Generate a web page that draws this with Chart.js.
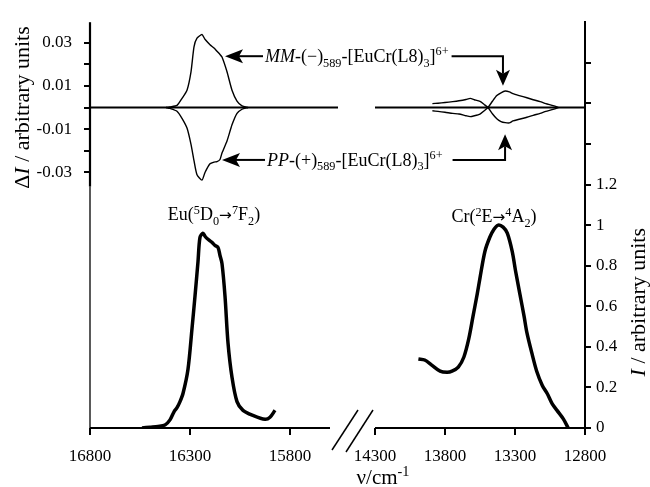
<!DOCTYPE html>
<html>
<head>
<meta charset="utf-8">
<script src="https://cdn.jsdelivr.net/npm/chart.js@4.4.1/dist/chart.umd.min.js"></script>
<style>
  html, body { margin: 0; padding: 0; background: #fff; }
  #wrap { width: 650px; height: 487px; position: relative; }
</style>
</head>
<body>
<div id="wrap"><canvas id="c"></canvas></div>
<script>
// emission, Eu(5D0->7F2) band: wavenumber (cm-1) / intensity
const euWn = [16540, 16500, 16460, 16425, 16400, 16380, 16365, 16350, 16335, 16310, 16290, 16275, 16260, 16250, 16235, 16225, 16210, 16190, 16175, 16160, 16150, 16140, 16125, 16110, 16090, 16065, 16035, 15985, 15925, 15900, 15875];
const euI = [0.0, 0.004, 0.008, 0.015, 0.04, 0.08, 0.10, 0.13, 0.17, 0.29, 0.49, 0.65, 0.82, 0.94, 0.96, 0.945, 0.93, 0.915, 0.90, 0.89, 0.85, 0.81, 0.65, 0.42, 0.25, 0.13, 0.087, 0.062, 0.043, 0.053, 0.087];

// emission, Cr(2E->4A2) band
const crWn = [13990, 13945, 13895, 13835, 13785, 13750, 13705, 13665, 13630, 13600, 13570, 13550, 13515, 13480, 13450, 13420, 13385, 13355, 13320, 13295, 13265, 13235, 13215, 13180, 13145, 13105, 13070, 13035, 13000, 12955, 12920];
const crI = [0.34, 0.335, 0.31, 0.28, 0.275, 0.28, 0.30, 0.35, 0.44, 0.55, 0.66, 0.74, 0.87, 0.94, 0.98, 1.0, 0.99, 0.96, 0.87, 0.77, 0.66, 0.55, 0.47, 0.37, 0.28, 0.21, 0.17, 0.12, 0.087, 0.045, 0.0];

// CPL, Eu band
const euCdWn = [16420, 16400, 16365, 16340, 16315, 16295, 16280, 16265, 16240, 16225, 16200, 16180, 16165, 16150, 16140, 16115, 16090, 16065, 16040, 16010];
const euCdMM = [0, 0.0003, 0.001, 0.0042, 0.008, 0.0165, 0.028, 0.032, 0.0337, 0.0315, 0.029, 0.0275, 0.026, 0.0245, 0.0233, 0.0165, 0.008, 0.003, 0.0008, 0];
const euCdPP = [0, -0.0004, -0.0017, -0.005, -0.0095, -0.017, -0.0245, -0.031, -0.0335, -0.03, -0.026, -0.0252, -0.025, -0.024, -0.021, -0.0155, -0.008, -0.0027, -0.0008, 0];

// CPL, Cr band
const crCdWn = [13890, 13850, 13800, 13745, 13700, 13650, 13620, 13590, 13550, 13520, 13493, 13460, 13430, 13400, 13370, 13340, 13315, 13270, 13215, 13170, 13120, 13080, 13035, 13000, 12990];
const crCdMM = [-0.0015, -0.0018, -0.0022, -0.0027, -0.003, -0.0038, -0.0042, -0.0038, -0.003, -0.0015, 0, 0.003, 0.0055, 0.0068, 0.0076, 0.0072, 0.0064, 0.0055, 0.0045, 0.0036, 0.0027, 0.0018, 0.001, 0.0003, 0];
const crCdPP = [0.0018, 0.002, 0.0023, 0.0027, 0.0031, 0.0037, 0.0042, 0.0036, 0.0028, 0.0014, 0, -0.003, -0.0052, -0.0065, -0.007, -0.0071, -0.0062, -0.0054, -0.0045, -0.0036, -0.0027, -0.0018, -0.001, -0.0003, 0];

// zero line of the CPL panel, in two pieces around the break
const zeroLeft = [16800, 15560];
const zeroRight = [14300, 12800];

const xTicks = [16800, 16300, 15800, 14300, 13800, 13300, 12800];
const dTicks = [0.03, 0.02, 0.01, 0, -0.01, -0.02, -0.03];
const dTickLabels = ['0.03', '', '0.01', '', '-0.01', '', '-0.03'];
const iTicks = [0, 0.2, 0.4, 0.6, 0.8, 1.0, 1.2, 1.4, 1.6, 1.8];
const iTickLabels = ['0', '0.2', '0.4', '0.6', '0.8', '1', '1.2', '', '', ''];

// broken axis: 16800..15550 on the left, 14300..12800 squeezed on the right
const toU = v => v >= 15000 ? 16800 - v : 1425 + (14300 - v) * 0.7;
const pts = (xs, ys) => xs.map((v, i) => ({ x: toU(v), y: ys[i] }));

const FONT = '"Liberation Serif", "Times New Roman", serif';

const fontFor = (st, s) => st === 'sym' ? `${s}px "DejaVu Sans"` : `${st === 'i' ? 'italic ' : ''}${s}px ${FONT}`;

const rich = (ctx, parts, x, y, size, align) => {
    const items = parts.map(([t, st]) => {
        const s = (st === 'sub' || st === 'sup') ? size * 0.68 : st === 'sym' ? size * 0.85 : size;
        ctx.font = fontFor(st, s);
        return { t, st, s, w: ctx.measureText(t).width };
    });
    const w = items.reduce((a, it) => a + it.w, 0);
    let cx = align === 'center' ? x - w / 2 : align === 'right' ? x - w : x;
    ctx.textAlign = 'left';
    ctx.textBaseline = 'alphabetic';
    items.forEach(it => {
        ctx.font = fontFor(it.st, it.s);
        const dy = it.st === 'sub' ? size * 0.25 : it.st === 'sup' ? -size * 0.38 : 0;
        ctx.fillText(it.t, cx, y + dy);
        cx += it.w;
    });
    return w;
};

const arrowHead = (ctx, x, y, dir) => {
    ctx.beginPath();
    if (dir === 'left') { ctx.moveTo(x, y); ctx.lineTo(x + 18, y - 7); ctx.lineTo(x + 14, y); ctx.lineTo(x + 18, y + 7); }
    if (dir === 'down') { ctx.moveTo(x, y); ctx.lineTo(x - 7, y - 16); ctx.lineTo(x, y - 12); ctx.lineTo(x + 7, y - 16); }
    if (dir === 'up') { ctx.moveTo(x, y); ctx.lineTo(x - 7, y + 16); ctx.lineTo(x, y + 12); ctx.lineTo(x + 7, y + 16); }
    ctx.closePath();
    ctx.fill();
};

const mmText = [['MM', 'i'], ['-(\u2212)'], ['589', 'sub'], ['-[EuCr(L8)'], ['3', 'sub'], [']'], ['6+', 'sup']];
const ppText = [['PP', 'i'], ['-(+)'], ['589', 'sub'], ['-[EuCr(L8)'], ['3', 'sub'], [']'], ['6+', 'sup']];

const decor = {
    id: 'decor',
    afterDraw(chart) {
        const ctx = chart.ctx;
        const x = chart.scales.x, yD = chart.scales.yD, yI = chart.scales.yI;
        const a = chart.chartArea;
        ctx.save();
        ctx.fillStyle = '#000';
        ctx.strokeStyle = '#000';
        ctx.lineCap = 'butt';

        // left axis: heavy in the CPL panel, thin below
        ctx.lineWidth = 2.2;
        ctx.beginPath(); ctx.moveTo(a.left, a.top); ctx.lineTo(a.left, yD.getPixelForValue(-0.0365)); ctx.stroke();
        ctx.lineWidth = 1.3;
        ctx.beginPath(); ctx.moveTo(a.left, yD.getPixelForValue(-0.0365)); ctx.lineTo(a.left, a.bottom); ctx.stroke();

        // bottom axis with break
        const xb = x.getPixelForValue(toU(15600));
        const xr = x.getPixelForValue(toU(14300));
        ctx.lineWidth = 2;
        ctx.beginPath(); ctx.moveTo(a.left, a.bottom); ctx.lineTo(xb, a.bottom); ctx.stroke();
        ctx.beginPath(); ctx.moveTo(xr, a.bottom); ctx.lineTo(a.right, a.bottom); ctx.stroke();
        ctx.lineWidth = 1.5;
        ctx.beginPath(); ctx.moveTo(xb + 2, a.bottom + 22); ctx.lineTo(xb + 28, a.bottom - 18); ctx.stroke();
        ctx.beginPath(); ctx.moveTo(xb + 16, a.bottom + 24); ctx.lineTo(xb + 43, a.bottom - 18); ctx.stroke();

        // axis titles
        ctx.save();
        ctx.translate(29, yD.getPixelForValue(0));
        ctx.rotate(-Math.PI / 2);
        rich(ctx, [['\u0394'], ['I', 'i'], [' / arbitrary units']], 0, 0, 22, 'center');
        ctx.restore();
        ctx.save();
        ctx.translate(a.right + 60, yI.getPixelForValue(0.62));
        ctx.rotate(-Math.PI / 2);
        rich(ctx, [['I', 'i'], [' / arbitrary units']], 0, 0, 22, 'center');
        ctx.restore();
        rich(ctx, [['\u03bd/cm'], ['-1', 'sup']], xr + 8, chart.height - 3, 21, 'center');

        // band labels
        rich(ctx, [['Eu('], ['5', 'sup'], ['D'], ['0', 'sub'], ['\u2192', 'sym'], ['7', 'sup'], ['F'], ['2', 'sub'], [')']],
            x.getPixelForValue(toU(16180)), yI.getPixelForValue(1.023), 18, 'center');
        rich(ctx, [['Cr('], ['2', 'sup'], ['E'], ['\u2192', 'sym'], ['4', 'sup'], ['A'], ['2', 'sub'], [')']],
            x.getPixelForValue(toU(13450)), yI.getPixelForValue(1.013), 18, 'center');

        // MM annotation
        ctx.lineWidth = 2;
        let tipX = x.getPixelForValue(toU(16125)), lineY = yD.getPixelForValue(0.0237);
        let cornerX = x.getPixelForValue(toU(13386));
        arrowHead(ctx, tipX, lineY, 'left');
        ctx.beginPath(); ctx.moveTo(tipX + 14, lineY); ctx.lineTo(tipX + 38, lineY); ctx.stroke();
        let w = rich(ctx, mmText, tipX + 40, lineY + 6, 18, 'left');
        let tipY = yD.getPixelForValue(0.0101);
        ctx.beginPath(); ctx.moveTo(tipX + 43 + w, lineY); ctx.lineTo(cornerX, lineY); ctx.lineTo(cornerX, tipY - 12); ctx.stroke();
        arrowHead(ctx, cornerX, tipY, 'down');

        // PP annotation
        tipX = x.getPixelForValue(toU(16140)); lineY = yD.getPixelForValue(-0.0242);
        cornerX = x.getPixelForValue(toU(13371));
        arrowHead(ctx, tipX, lineY, 'left');
        ctx.beginPath(); ctx.moveTo(tipX + 14, lineY); ctx.lineTo(tipX + 43, lineY); ctx.stroke();
        w = rich(ctx, ppText, tipX + 45, lineY + 6, 18, 'left');
        tipY = yD.getPixelForValue(-0.0123);
        ctx.beginPath(); ctx.moveTo(tipX + 55 + w, lineY); ctx.lineTo(cornerX, lineY); ctx.lineTo(cornerX, tipY + 12); ctx.stroke();
        arrowHead(ctx, cornerX, tipY, 'up');

        ctx.restore();
    }
};

const line = (data, axis, width, tension) => ({
    data, yAxisID: axis, borderColor: '#000', borderWidth: width,
    pointRadius: 0, tension, fill: false
});

Chart.defaults.color = '#000';
Chart.defaults.font.family = FONT;

new Chart(document.getElementById('c').getContext('2d'), {
    type: 'line',
    data: {
        datasets: [
            line(pts(zeroLeft, [0, 0]), 'yD', 2, 0),
            line(pts(zeroRight, [0, 0]), 'yD', 2, 0),
            line(pts(euCdWn, euCdMM), 'yD', 1.4, 0.2),
            line(pts(euCdWn, euCdPP), 'yD', 1.4, 0.2),
            line(pts(crCdWn, crCdMM), 'yD', 1.4, 0.2),
            line(pts(crCdWn, crCdPP), 'yD', 1.4, 0.2),
            line(pts(euWn, euI), 'yI', 3.5, 0.3),
            line(pts(crWn, crI), 'yI', 3.5, 0.3)
        ]
    },
    options: {
        responsive: true,
        maintainAspectRatio: false,
        animation: false,
        layout: { padding: { top: 12, left: 0, right: 0, bottom: 0 } },
        plugins: { legend: { display: false }, tooltip: { enabled: false } },
        scales: {
            x: {
                type: 'linear', min: 0, max: toU(12800),
                afterBuildTicks: s => { s.ticks = xTicks.map(v => ({ value: toU(v) })); },
                afterFit: s => { s.height = 59; },
                ticks: { callback: (v, i) => String(xTicks[i]), font: { size: 17 }, padding: 11, maxRotation: 0, autoSkip: false },
                grid: { drawOnChartArea: false, drawTicks: true, tickLength: 7, color: '#000', lineWidth: 2 },
                border: { display: false }
            },
            yD: {
                type: 'linear', position: 'left', min: -0.148, max: 0.0394,
                afterBuildTicks: s => { s.ticks = dTicks.map(v => ({ value: v })); },
                afterFit: s => { s.width = 90; },
                ticks: { callback: (v, i) => dTickLabels[i], font: { size: 17 }, padding: 12, autoSkip: false },
                grid: { drawOnChartArea: false, drawTicks: true, tickLength: 6, color: '#000', lineWidth: 2 },
                border: { display: false }
            },
            yI: {
                type: 'linear', position: 'right', min: 0, max: 2.0,
                afterBuildTicks: s => { s.ticks = iTicks.map(v => ({ value: v })); },
                afterFit: s => { s.width = 65; },
                ticks: { callback: (v, i) => iTickLabels[i], font: { size: 17 }, padding: 5, autoSkip: false },
                grid: { drawOnChartArea: false, drawTicks: true, tickLength: 6, color: '#000', lineWidth: 2 },
                border: { display: true, color: '#000', width: 2 }
            }
        }
    },
    plugins: [decor]
});
</script>
</body>
</html>
